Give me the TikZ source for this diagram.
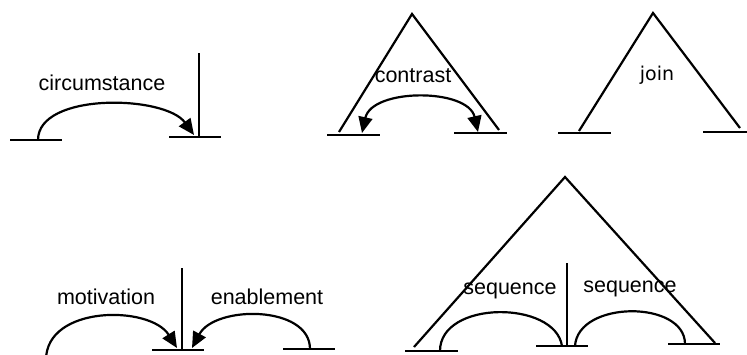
\documentclass[tikz,border=0pt]{standalone}
\usepackage{fontspec}
\setmainfont{Liberation Sans}
\newfontfamily\joinfont{DejaVu Sans}
\usetikzlibrary{arrows.meta}
\begin{document}
\begin{tikzpicture}[x=1pt,y=-1pt,
  ln/.style={line width=2.2pt,line cap=butt},
  bar/.style={line width=2.6pt},
  rel/.style={line width=2.2pt,-{Triangle[length=16pt,width=14pt]}},
  rel2/.style={line width=2.2pt,{Triangle[length=16pt,width=14pt]}-{Triangle[length=16pt,width=14pt]}},
  arc/.style={line width=2.2pt},
  lbl/.style={inner sep=0pt,font=\fontsize{21.5}{25}\selectfont}]
\useasboundingbox (0,0) rectangle (747,354);
\clip (0,0) rectangle (747,354);

% circumstance
\coordinate (c1a) at (10,140); \coordinate (c1b) at (62,140);
\coordinate (c2a) at (169,137); \coordinate (c2b) at (221,137);
\coordinate (cvt) at (199,53); \coordinate (cvb) at (199,137);
\coordinate (cs) at (38,140); \coordinate (ce) at (194,135);
\draw[bar] (c1a) -- (c1b);
\draw[bar] (c2a) -- (c2b);
\draw[ln] (cvt) -- (cvb);
\draw[rel] (cs) .. controls (38,92) and (165,95) .. (ce);
\node[lbl] (circ) at (102,83) {circumstance};

% contrast
\coordinate (k1a) at (327,135); \coordinate (k1b) at (380,135);
\coordinate (k2a) at (454,133); \coordinate (k2b) at (507,133);
\coordinate (kl) at (339,132); \coordinate (kt) at (412,14); \coordinate (kr) at (499,130);
\coordinate (ks) at (362,133); \coordinate (ke) at (478,132);
\draw[bar] (k1a) -- (k1b);
\draw[bar] (k2a) -- (k2b);
\draw[ln,line join=miter] (kl) -- (kt) -- (kr);
\draw[rel2] (ks) .. controls (372,88) and (468,88) .. (ke);
\node[lbl] (contr) at (413,76) {contrast};

% join
\coordinate (j1a) at (558,133); \coordinate (j1b) at (611,133);
\coordinate (j2a) at (703,132); \coordinate (j2b) at (747,132);
\coordinate (jl) at (579,131); \coordinate (jt) at (653,13); \coordinate (jr) at (740,128);
\draw[bar] (j1a) -- (j1b);
\draw[bar] (j2a) -- (j2b);
\draw[ln,line join=miter] (jl) -- (jt) -- (jr);
\node[inner sep=0pt,font=\joinfont\fontsize{19}{23}\selectfont] (join) at (657,75) {join};

% motivation / enablement
\coordinate (m1a) at (152,350); \coordinate (m1b) at (204,350);
\coordinate (m2a) at (283,349); \coordinate (m2b) at (335,349);
\coordinate (mvt) at (182,268); \coordinate (mvb) at (182,350);
\coordinate (ms) at (46,360); \coordinate (me) at (177,348);
\coordinate (es) at (310,349); \coordinate (ee) at (192,348);
\draw[bar] (m1a) -- (m1b);
\draw[bar] (m2a) -- (m2b);
\draw[ln] (mvt) -- (mvb);
\draw[rel] (ms) .. controls (46,305) and (150,305) .. (me);
\draw[rel] (es) .. controls (310,305) and (215,305) .. (ee);
\node[lbl] (motiv) at (106,297) {motivation};
\node[lbl] (enabl) at (267,297) {enablement};

% sequence
\coordinate (s1a) at (405,351); \coordinate (s1b) at (458,351);
\coordinate (s2a) at (536,346); \coordinate (s2b) at (588,346);
\coordinate (s3a) at (668,344); \coordinate (s3b) at (720,344);
\coordinate (sl) at (414,347); \coordinate (st) at (565,177); \coordinate (sr) at (715,343);
\coordinate (svt) at (567,263); \coordinate (svb) at (567,346);
\draw[bar] (s1a) -- (s1b);
\draw[bar] (s2a) -- (s2b);
\draw[bar] (s3a) -- (s3b);
\draw[ln,line join=miter] (sl) -- (st) -- (sr);
\draw[ln] (svt) -- (svb);
\draw[arc] (440,351) .. controls (440,300) and (555,300) .. (562,346);
\draw[arc] (575,346) .. controls (578,300) and (685,300) .. (685,344);
\node[lbl] (seq1) at (510,291) {sequence};
\node[lbl] (seq2) at (630,289) {sequence};
\end{tikzpicture}
\end{document}
